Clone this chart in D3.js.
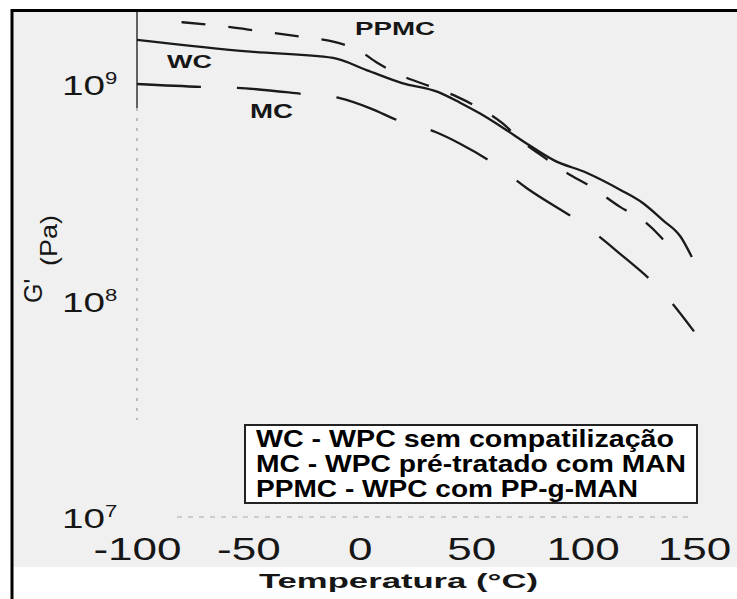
<!DOCTYPE html>
<html>
<head>
<meta charset="utf-8">
<script src="https://cdn.jsdelivr.net/npm/d3@7"></script>
<style>
body { margin: 0; background: #fff; }
svg { display: block; font-family: "Liberation Sans", Arial, sans-serif; }
</style>
</head>
<body>
<div id="grafico"></div>
<script>
// Temperatura (°C) e G' (Pa)
const tempWC = [-100, -49, -12, 3, 19, 35, 45, 54, 64, 75, 87, 102, 117, 127, 136, 144, 149];
const gWC = [1.60e9, 1.41e9, 1.32e9, 1.16e9, 1.01e9, 9.2e8, 8.2e8, 7.3e8, 6.3e8, 5.3e8, 4.45e8, 3.88e8, 3.24e8, 2.82e8, 2.35e8, 1.97e8, 1.59e8];

const tempMC = [-100, -71, -55, -26, -9, 5, 17, 34, 45, 60, 75, 102, 116, 136, 150];
const gMC = [1.00e9, 9.7e8, 9.6e8, 9.0e8, 8.6e8, 7.7e8, 6.8e8, 6.0e8, 5.3e8, 4.3e8, 3.3e8, 2.18e8, 1.67e8, 1.09e8, 7.2e7];

const tempPPMC = [-80, -58, -46, -26, -11, -1, 8, 19, 31, 44, 54, 64, 73, 80, 93, 104, 117, 127, 135, 140];
const gPPMC = [1.93e9, 1.83e9, 1.76e9, 1.65e9, 1.56e9, 1.44e9, 1.25e9, 1.09e9, 9.8e8, 8.7e8, 7.7e8, 6.6e8, 5.4e8, 4.8e8, 3.88e8, 3.34e8, 2.70e8, 2.35e8, 1.97e8, 1.71e8];

const xTicks = [-100, -50, 0, 50, 100, 150];
const yTicks = [1e7, 1e8, 1e9];
const legendLines = ["WC - WPC sem compatilização", "MC - WPC pré-tratado com MAN", "PPMC - WPC com PP-g-MAN"];

const width = 737, height = 599;
const tinta = "#161616";

const svg = d3.select("#grafico")
    .append("svg")
    .attr("width", width)
    .attr("height", height);

// fundo cinza da digitalização
svg.append("rect")
    .attr("x", 13).attr("y", 11)
    .attr("width", 724).attr("height", 556)
    .attr("fill", "#f0f0f0");

// moldura
svg.append("path")
    .attr("d", "M12,599V10.5H737")
    .attr("fill", "none")
    .attr("stroke", "#000")
    .attr("stroke-width", 3);

const x = d3.scaleLinear()
    .domain([-100, 150])
    .range([137, 694]);

const y = d3.scaleLog()
    .domain([1e7, 1e9])
    .range([517, 84]);

// eixo Y (linha)
svg.append("line")
    .attr("x1", x(-100)).attr("x2", x(-100))
    .attr("y1", 12).attr("y2", 108)
    .attr("stroke", "#333").attr("stroke-width", 1.5);
svg.append("line")
    .attr("x1", x(-100)).attr("x2", x(-100))
    .attr("y1", 108).attr("y2", 420)
    .attr("stroke", "#9a9a9a").attr("stroke-width", 1.2)
    .attr("stroke-dasharray", "3,7");

// eixo X (linha pontilhada fraca)
svg.append("line")
    .attr("x1", 177).attr("x2", 690)
    .attr("y1", y(1e7)).attr("y2", y(1e7))
    .attr("stroke", "#a8a8a8").attr("stroke-width", 1.2)
    .attr("stroke-dasharray", "5,6");

// rótulos do eixo X
const gx = svg.append("g")
    .attr("transform", "translate(0,560)")
    .style("color", tinta)
    .call(d3.axisBottom(x).tickValues(xTicks).tickSize(0).tickFormat(d => String(d)));
gx.select(".domain").remove();
gx.selectAll("text")
    .attr("y", 0).attr("dy", 0)
    .attr("font-family", null)
    .style("font-size", "31px")
    .attr("transform", "scale(1.42,1)");

// rótulos do eixo Y
const gy = svg.append("g")
    .attr("transform", "translate(" + x(-100) + ",0)")
    .style("color", tinta)
    .call(d3.axisLeft(y).tickValues(yTicks).tickSize(0));
gy.select(".domain").remove();
gy.selectAll("text").each(function (d) {
    const t = d3.select(this);
    t.text(null)
        .attr("x", 0).attr("dy", "0.38em")
        .attr("text-anchor", "start")
        .attr("font-family", null)
        .attr("transform", "translate(-75,0) scale(1.38,1)")
        .style("font-size", "28px");
    t.append("tspan").text("10");
    t.append("tspan")
        .attr("dy", -11)
        .style("font-size", "16px")
        .text(Math.round(Math.log10(d)));
});

// título eixo Y
svg.append("text")
    .attr("transform", "translate(42,303) rotate(-90)")
    .attr("fill", tinta)
    .style("font-size", "25px")
    .text("G'");
svg.append("text")
    .attr("transform", "translate(57,266) rotate(-90)")
    .attr("fill", tinta)
    .style("font-size", "24px")
    .attr("textLength", 51)
    .attr("lengthAdjust", "spacingAndGlyphs")
    .text("(Pa)");

// título eixo X
svg.append("text")
    .attr("x", 259).attr("y", 588)
    .attr("fill", tinta)
    .style("font-size", "21px")
    .style("font-weight", "bold")
    .attr("textLength", 279)
    .attr("lengthAdjust", "spacingAndGlyphs")
    .text("Temperatura (°C)");

// curvas
const linha = d3.line()
    .x(d => x(d[0]))
    .y(d => y(d[1]))
    .curve(d3.curveMonotoneX);

const series = [
    {temp: tempWC, g: gWC, dash: null},
    {temp: tempMC, g: gMC, dash: "64,36"},
    {temp: tempPPMC, g: gPPMC, dash: "24,23"}
];

svg.append("g")
    .selectAll("path")
    .data(series)
    .enter()
    .append("path")
    .attr("d", s => linha(s.temp.map((t, i) => [t, s.g[i]])))
    .attr("fill", "none")
    .attr("stroke", "#1a1a1a")
    .attr("stroke-width", 2.3)
    .attr("stroke-dasharray", s => s.dash);

// nomes das curvas
const nomes = [
    {txt: "WC", px: 167, py: 68, fs: 18, len: 45},
    {txt: "MC", px: 250, py: 118, fs: 20, len: 43},
    {txt: "PPMC", px: 355, py: 35, fs: 18, len: 80}
];
svg.append("g")
    .selectAll("text")
    .data(nomes)
    .enter()
    .append("text")
    .attr("x", d => d.px)
    .attr("y", d => d.py)
    .attr("fill", tinta)
    .style("font-size", d => d.fs + "px")
    .style("font-weight", "bold")
    .attr("textLength", d => d.len)
    .attr("lengthAdjust", "spacingAndGlyphs")
    .text(d => d.txt);

// legenda
const leg = svg.append("g");
leg.append("rect")
    .attr("x", 245).attr("y", 425)
    .attr("width", 452).attr("height", 78)
    .attr("fill", "#fff")
    .attr("stroke", "#222")
    .attr("stroke-width", 2);
const larguras = [418, 430, 382];
leg.selectAll("text")
    .data(legendLines)
    .enter()
    .append("text")
    .attr("x", 256)
    .attr("y", (d, i) => 447 + i * 25)
    .attr("fill", "#000")
    .style("font-size", "23px")
    .style("font-weight", "bold")
    .attr("textLength", (d, i) => larguras[i])
    .attr("lengthAdjust", "spacingAndGlyphs")
    .text(d => d);
</script>
</body>
</html>
